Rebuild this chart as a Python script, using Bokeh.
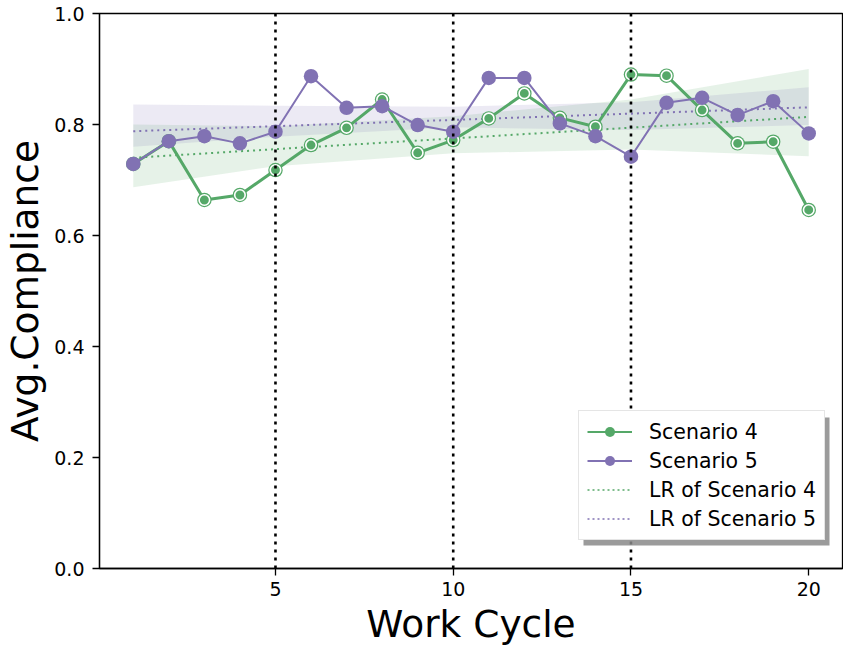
import numpy as np
from bokeh.plotting import figure
from bokeh.models import (ColumnDataSource, Legend, LegendItem, FixedTicker,
                          Span, BoxAnnotation, Range1d, NumeralTickFormatter)
from bokeh.embed import file_html
from bokeh.resources import INLINE

# ---------------- data ----------------
cycles = list(range(1, 21))
scenario4 = [0.729, 0.770, 0.664, 0.673, 0.718, 0.763, 0.794, 0.845, 0.749, 0.772,
             0.811, 0.856, 0.812, 0.796, 0.890, 0.888, 0.826, 0.766, 0.769, 0.646]
scenario5 = [0.729, 0.770, 0.779, 0.766, 0.787, 0.887, 0.830, 0.833, 0.799, 0.787,
             0.884, 0.884, 0.802, 0.779, 0.742, 0.839, 0.848, 0.817, 0.842, 0.784]

# confidence bands of the regressions
band_x = [1, 5, 10, 15, 20]
band4_lower = [0.687, 0.725, 0.748, 0.755, 0.743]
band4_upper = [0.800, 0.797, 0.815, 0.845, 0.900]
band5_lower = [0.760, 0.778, 0.795, 0.790, 0.799]
band5_upper = [0.836, 0.834, 0.832, 0.840, 0.867]

phase_marks = [5, 10, 15]
x_ticks = [5, 10, 15, 20]
y_ticks = [0.0, 0.2, 0.4, 0.6, 0.8, 1.0]

GREEN = "#55a868"
PURPLE = "#8172b3"
FONT = "DejaVu Sans"

# linear regressions fitted to the data
xs = np.array(cycles, dtype=float)
k4, b4 = np.polyfit(xs, np.array(scenario4), 1)
k5, b5 = np.polyfit(xs, np.array(scenario5), 1)
lr_x = [cycles[0], cycles[-1]]
lr4 = [k4 * v + b4 for v in lr_x]
lr5 = [k5 * v + b5 for v in lr_x]

# ---------------- figure ----------------
X0, X1 = 0.05, 20.95
FW, FH = 743, 555
p = figure(frame_width=FW, frame_height=FH, output_backend="svg", toolbar_location=None,
           x_range=Range1d(X0, X1), y_range=Range1d(0.0, 1.0),
           min_border_left=91, min_border_top=13, min_border_right=1,
           min_border_bottom=10)
p.background_fill_color = "white"
p.border_fill_color = "white"
p.outline_line_color = "black"
p.outline_line_width = 1.3
p.grid.visible = False

for ax in (p.xaxis, p.yaxis):
    ax.axis_line_color = "black"
    ax.axis_line_width = 1.3
    ax.major_tick_line_color = "black"
    ax.major_tick_line_width = 1.3
    ax.major_tick_out = 7
    ax.major_tick_in = 0
    ax.minor_tick_line_color = None
    ax.major_label_text_font = FONT
    ax.major_label_text_font_size = "19px"
    ax.major_label_text_color = "black"
    ax.axis_label_text_font = FONT
    ax.axis_label_text_font_size = "37.5px"
    ax.axis_label_text_font_style = "normal"
    ax.axis_label_text_color = "black"

p.xaxis.ticker = FixedTicker(ticks=x_ticks)
p.yaxis.ticker = FixedTicker(ticks=y_ticks)
p.yaxis.formatter = NumeralTickFormatter(format="0.0")
p.xaxis.axis_label = "Work Cycle"
p.yaxis.axis_label = "Avg.Compliance"
p.xaxis.major_label_standoff = 6
p.xaxis.axis_label_standoff = 3
p.yaxis.major_label_standoff = 8
p.yaxis.axis_label_standoff = 4

# confidence bands
p.varea(x=band_x, y1=band4_lower, y2=band4_upper, fill_color=GREEN, fill_alpha=0.15)
p.varea(x=band_x, y1=band5_lower, y2=band5_upper, fill_color=PURPLE, fill_alpha=0.15)

# regression lines
p.line(lr_x, lr4, line_color=GREEN, line_width=2, line_dash="2 4")
p.line(lr_x, lr5, line_color=PURPLE, line_width=2, line_dash="2 4")

src4 = ColumnDataSource(dict(x=cycles, y=scenario4))
src5 = ColumnDataSource(dict(x=cycles, y=scenario5))

# scenario 4
p.line("x", "y", source=src4, line_color=GREEN, line_width=3)
p.scatter("x", "y", source=src4, size=14.5, fill_color=GREEN, line_color=None)
p.scatter("x", "y", source=src4, size=10.5, fill_color=GREEN,
          line_color="white", line_width=1.6)

# scenario 5
p.line("x", "y", source=src5, line_color=PURPLE, line_width=2)
p.scatter("x", "y", source=src5, size=14.5, fill_color=PURPLE, line_color=None)

# phase separators
for xv in phase_marks:
    p.add_layout(Span(location=xv, dimension="height", line_color="black",
                      line_width=2.6, line_dash="3 5"))

# legend proxy glyphs (a single NaN point, so nothing shows in the plot)
def proxy():
    return ColumnDataSource(dict(x=[np.nan], y=[np.nan]))
l4 = p.line("x", "y", source=proxy(), line_color=GREEN, line_width=2)
m4 = p.scatter("x", "y", source=proxy(), size=8, fill_color=GREEN, line_color=None)
l5 = p.line("x", "y", source=proxy(), line_color=PURPLE, line_width=2)
m5 = p.scatter("x", "y", source=proxy(), size=8, fill_color=PURPLE, line_color=None)
d4 = p.line("x", "y", source=proxy(), line_color=GREEN, line_width=1.6, line_dash="2 3")
d5 = p.line("x", "y", source=proxy(), line_color=PURPLE, line_width=1.6, line_dash="2 3")

# legend geometry (pixels inside the frame)
LEG_LEFT, LEG_BOTTOM, LEG_W, LEG_H, SH = 479, 28, 246, 128, 5
def px_to_x(px):
    return X0 + px / FW * (X1 - X0)
def px_to_y(py):
    return py / FH
shadow = BoxAnnotation(left=px_to_x(LEG_LEFT + SH), right=px_to_x(LEG_LEFT + LEG_W + SH),
                       top=px_to_y(LEG_BOTTOM + LEG_H - SH), bottom=px_to_y(LEG_BOTTOM - SH),
                       fill_color="#8a8a8a", fill_alpha=0.85, line_color=None,
                       level="annotation")
p.add_layout(shadow)

legend = Legend(items=[
    LegendItem(label="Scenario 4", renderers=[l4, m4]),
    LegendItem(label="Scenario 5", renderers=[l5, m5]),
    LegendItem(label="LR of Scenario 4", renderers=[d4]),
    LegendItem(label="LR of Scenario 5", renderers=[d5]),
], location=(LEG_LEFT, LEG_BOTTOM))
legend.label_text_font = FONT
legend.label_text_font_size = "20.5px"
legend.label_text_color = "black"
legend.label_height = 25
legend.glyph_height = 25
legend.glyph_width = 45
legend.label_standoff = 17
legend.spacing = 4
legend.padding = 8
legend.margin = 0
legend.border_line_color = "#cccccc"
legend.border_line_width = 1.2
legend.background_fill_color = "white"
legend.background_fill_alpha = 1.0
p.add_layout(legend, "center")

open("out.html", "w").write(file_html(p, INLINE))
